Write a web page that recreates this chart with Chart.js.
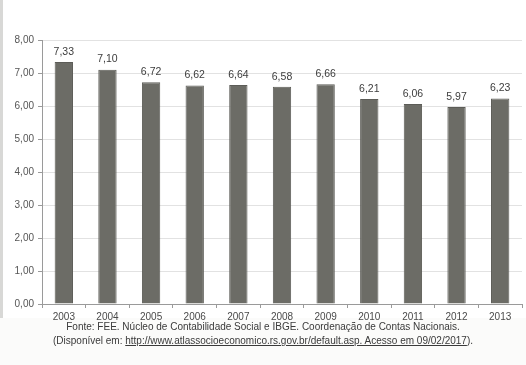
<!DOCTYPE html>
<html>
<head>
<meta charset="utf-8">
<script src="https://cdn.jsdelivr.net/npm/chart.js@4"></script>
<style>
  html, body { margin: 0; padding: 0; background: #fbfbfa; }
  #wrap { position: relative; width: 526px; height: 365px; overflow: hidden; }
  #frame { position: absolute; left: 0; top: 0; width: 526px; height: 318px; background: #fff;
           border-left: 3px solid #d8d8d6; box-sizing: border-box; }
  #chartBox { position: absolute; left: 0; top: 0; width: 526px; height: 324px; }
  #caption { position: absolute; left: 0; top: 320px; width: 526px; text-align: center;
             font-family: "Liberation Sans", Arial, sans-serif; font-size: 10px; line-height: 14px; color: #3a3a3a; }
  #caption u { text-decoration: underline; }
</style>
</head>
<body>
<div id="wrap">
  <div id="frame"></div>
  <div id="chartBox"><canvas id="chart" width="526" height="324"></canvas></div>
  <div id="caption">
    Fonte: FEE. Núcleo de Contabilidade Social e IBGE. Coordenação de Contas Nacionais.<br>
    (Disponível em: <u>http://www.atlassocioeconomico.rs.gov.br/default.asp. Acesso em 09/02/2017</u>).
  </div>
</div>
<script>
// Data
const years = ['2003', '2004', '2005', '2006', '2007', '2008', '2009', '2010', '2011', '2012', '2013'];
const values = [7.33, 7.10, 6.72, 6.62, 6.64, 6.58, 6.66, 6.21, 6.06, 5.97, 6.23];
const yTicks = [0, 1, 2, 3, 4, 5, 6, 7, 8];

const fmt = v => v.toFixed(2).replace('.', ',');
const font = { family: '"Liberation Sans", Arial, sans-serif', size: 10 };

// value labels above each bar
const barLabels = {
    id: 'barLabels',
    afterDatasetsDraw(chart) {
        const ctx = chart.ctx;
        const meta = chart.getDatasetMeta(0);
        ctx.save();
        ctx.font = '10.5px "Liberation Sans", Arial, sans-serif';
        ctx.fillStyle = '#3c3c3c';
        ctx.textAlign = 'center';
        ctx.textBaseline = 'bottom';
        meta.data.forEach((bar, i) => {
            ctx.fillText(fmt(values[i]), bar.x, bar.y - 5);
        });
        ctx.restore();
    }
};

new Chart(document.getElementById('chart'), {
    type: 'bar',
    data: {
        labels: years,
        datasets: [{
            data: values,
            backgroundColor: '#6c6c66',
            borderColor: '#5c5c57',
            borderWidth: 1,
            categoryPercentage: 1,
            barPercentage: 0.42
        }]
    },
    options: {
        responsive: false,
        animation: false,
        layout: { padding: { top: 40, right: 4, left: 0, bottom: 0 } },
        plugins: { legend: { display: false }, tooltip: { enabled: false } },
        scales: {
            x: {
                grid: { drawOnChartArea: false, tickLength: 4, color: '#9a9a9a', offset: true },
                border: { color: '#9a9a9a' },
                ticks: { color: '#4a4a4a', font: font, padding: 3 },
                afterFit(scale) { scale.height = 20; }
            },
            y: {
                min: 0,
                max: 8,
                afterBuildTicks(scale) { scale.ticks = yTicks.map(v => ({ value: v })); },
                grid: { color: '#e2e2e2', tickLength: 4, tickColor: '#9a9a9a' },
                border: { color: '#9a9a9a' },
                ticks: { color: '#555', font: font, padding: 4, callback: v => fmt(v) },
                afterFit(scale) { scale.width = 42; }
            }
        }
    },
    plugins: [barLabels]
});
</script>
</body>
</html>
